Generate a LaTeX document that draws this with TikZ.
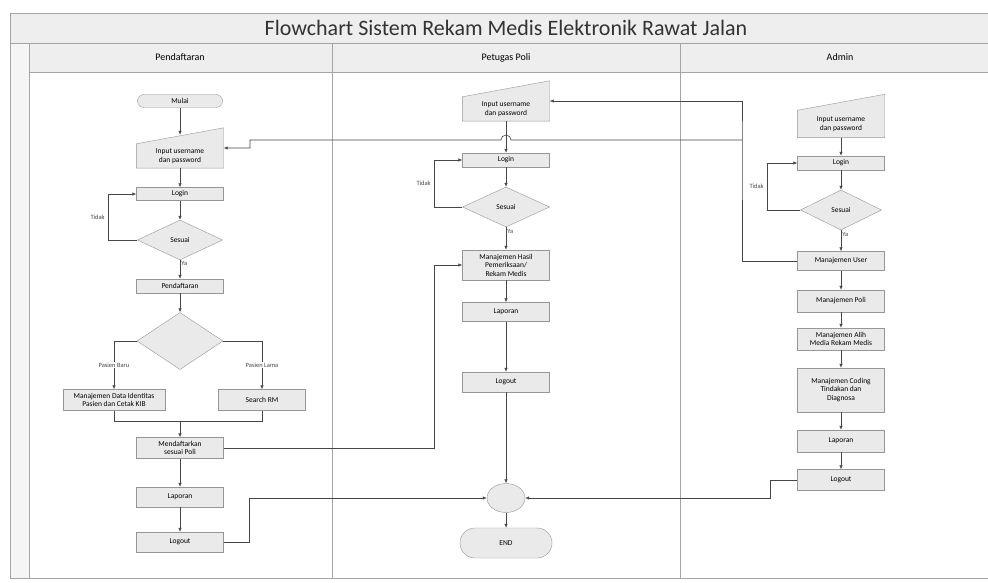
\documentclass[tikz,border=0pt]{standalone}
\usepackage{fontspec}
\setmainfont{Carlito}
\usetikzlibrary{shapes.geometric, arrows.meta, calc, backgrounds}
\definecolor{boxfill}{RGB}{234,234,234}
\definecolor{boxline}{RGB}{150,150,150}
\definecolor{wire}{RGB}{70,70,70}
\definecolor{lanefill}{RGB}{238,238,238}
\definecolor{laneline}{RGB}{165,165,165}

\begin{document}
\begin{tikzpicture}[x=1pt, y=-1pt,
    font=\fontsize{7.5}{8.5}\selectfont,
    % gaya simbol flowchart
    proses/.style={
        draw=boxline, fill=boxfill, align=center, minimum width=87, minimum height=20, inner sep=1pt
    },
    terminal/.style={
        proses, rounded corners=6.5, minimum height=13
    },
    keputusan/.style={
        diamond, draw=boxline, fill=boxfill, inner sep=0pt, minimum width=85, minimum height=40
    },
    inputbox/.style={
        align=center, minimum width=87, minimum height=24, inner sep=1pt
    },
    manual/.style={
        draw=boxline, fill=boxfill
    },
    gabung/.style={
        ellipse, draw=boxline, fill=boxfill, minimum width=38, minimum height=29
    },
    flow/.style={
        -{Latex[length=4pt,width=3.5pt]}, draw=wire, line width=0.6pt
    },
    garis/.style={
        draw=wire, line width=0.6pt
    },
    ket/.style={
        font=\fontsize{6.5}{7}\selectfont, text=wire
    },
    lane/.style={
        draw=laneline, line width=0.8pt
    }
]
    \useasboundingbox (0,0) rectangle (988,583);

    % --- KERANGKA SWIMLANE ---
    \draw[lane, fill=lanefill] (10,13) rectangle (992,43);
    \node[font=\fontsize{22}{24}\selectfont, text=black!80] (judul) at (506,28) {Flowchart Sistem Rekam Medis Elektronik Rawat Jalan};
    \draw[lane, fill=lanefill] (29,43) rectangle (992,72);
    \draw[lane, fill=lanefill!60] (10,43) rectangle (29,578);
    \draw[lane] (332,43) -- (332,578);
    \draw[lane] (680,43) -- (680,578);
    \draw[lane] (29,578) -- (992,578);
    \node[font=\fontsize{10}{11}\selectfont] (hdA) at (180,57.5) {Pendaftaran};
    \node[font=\fontsize{10}{11}\selectfont] (hdP) at (506,57.5) {Petugas Poli};
    \node[font=\fontsize{10}{11}\selectfont] (hdD) at (840,57.5) {Admin};

    % --- LANE PENDAFTARAN ---
    \node[terminal, minimum width=85] (mulai) at (180,101) {Mulai};
    \node[inputbox] (inA) at (180,156) {Input username\\dan password};
    \node[proses, minimum height=13] (loginA) at (180,194) {Login};
    \node[keputusan] (sesA) at (180,240) {Sesuai};
    \node[proses, minimum height=14] (daftar) at (180,286) {Pendaftaran};
    \node[keputusan, minimum width=86, minimum height=57] (cek) at (180,341) {};
    \node[proses, minimum width=102, minimum height=21] (baru) at (114,400) {Manajemen Data Identitas\\Pasien dan Cetak KIB};
    \node[proses, minimum height=21] (lama) at (262,400) {Search RM};
    \coordinate (gab) at (180,421);
    \node[proses, minimum height=21] (kirim) at (180,448) {Mendaftarkan\\sesuai Poli};
    \node[proses] (lapA) at (180,497) {Laporan};
    \node[proses] (outA) at (180,542) {Logout};

    % --- LANE PETUGAS POLI ---
    \node[inputbox] (inP) at (506,109) {Input username\\dan password};
    \node[proses, minimum height=14] (loginP) at (506,160) {Login};
    \node[keputusan, minimum width=87] (sesP) at (506,207) {Sesuai};
    \node[proses, minimum height=30] (hasil) at (506,265) {Manajemen Hasil\\Pemeriksaan/\\Rekam Medis};
    \node[proses, minimum height=19] (lapP) at (506,312) {Laporan};
    \node[proses] (outP) at (506,382) {Logout};
    \node[gabung] (temu) at (506,498) {};
    \node[terminal, minimum width=92, minimum height=30, rounded corners=15] (selesai) at (506,543) {END};

    % --- LANE ADMIN ---
    \node[inputbox, minimum height=27] (inD) at (841,124) {Input username\\dan password};
    \node[proses, minimum height=14] (loginD) at (841,163) {Login};
    \node[keputusan, minimum width=81] (sesD) at (841,210) {Sesuai};
    \node[proses, minimum height=19] (user) at (841,261) {Manajemen User};
    \node[proses, minimum height=22] (poli) at (841,301) {Manajemen Poli};
    \node[proses, minimum height=22] (alih) at (841,339) {Manajemen Alih\\Media Rekam Medis};
    \node[proses, minimum height=44] (coding) at (841,390) {Manajemen Coding\\Tindakan dan\\Diagnosa};
    \node[proses, minimum height=22] (lapD) at (841,441) {Laporan};
    \node[proses, minimum height=21] (outD) at (841,480) {Logout};
    \coordinate (cab) at (742,140);

    % bentuk input manual
    \begin{scope}[on background layer]
        \fill[white] (0,0) rectangle (988,583);
        \foreach \n in {inA, inP, inD} {
            \draw[manual] (\n.south west) -- (\n.north west) -- ([yshift=16pt]\n.north east) -- (\n.south east) -- cycle;
        }
    \end{scope}

    % --- ALUR PENDAFTARAN ---
    \draw[flow] (mulai) -- ([yshift=9pt]inA.north);
    \draw[flow] (inA) -- (loginA);
    \draw[flow] (loginA) -- (sesA);
    \draw[flow] (sesA.west) -- ++(-29,0) |- node[ket, left, pos=0.25] {Tidak} (loginA.west);
    \draw[flow] (sesA) -- node[ket, right, pos=0.2, inner sep=1pt] {Ya} (daftar);
    \draw[flow] (daftar) -- (cek);
    \draw[flow] (cek.west) -| node[ket, pos=0.75, fill=white, inner sep=1pt] {Pasien Baru} (baru.north);
    \draw[flow] (cek.east) -| node[ket, pos=0.75, fill=white, inner sep=1pt] {Pasien Lama} (lama.north);
    \draw[garis] (baru.south) |- (gab);
    \draw[garis] (lama.south) |- (gab);
    \draw[flow] (gab) -- (kirim);
    \draw[flow] (kirim) -- (lapA);
    \draw[flow] (lapA) -- (outA);
    \draw[flow] (kirim.east) -| ($(hasil.west)+(-28,0)$) -- (hasil.west);
    \draw[flow] (outA.east) -- ++(26,0) |- (temu.west);

    % --- ALUR PETUGAS POLI ---
    \draw[flow] (inP) -- (loginP);
    \draw[flow] (loginP) -- (sesP);
    \draw[flow] (sesP.west) -- ++(-28,0) |- node[ket, left, pos=0.25] {Tidak} (loginP.west);
    \draw[flow] (sesP) -- node[ket, right, pos=0.2, inner sep=1pt] {Ya} (hasil);
    \draw[flow] (hasil) -- (lapP);
    \draw[flow] (lapP) -- (outP);
    \draw[flow] (outP) -- (temu);
    \draw[flow] (temu) -- (selesai);

    % --- ALUR ADMIN ---
    \draw[flow] (inD) -- (loginD);
    \draw[flow] (loginD) -- (sesD);
    \draw[flow] (sesD.west) -- ++(-33,0) |- node[ket, left, pos=0.25] {Tidak} (loginD.west);
    \draw[flow] (sesD) -- node[ket, right, pos=0.2, inner sep=1pt] {Ya} (user);
    \foreach \a/\b in {user/poli, poli/alih, alih/coding, coding/lapD, lapD/outD} {
        \draw[flow] (\a) -- (\b);
    }
    \draw[flow] (outD.west) -- ++(-27,0) |- (temu.east);

    % akun baru dikirim ke petugas & pendaftaran
    \draw[flow] (user.west) -| (cab) |- ([yshift=8pt]inP.east);
    \draw[flow] (cab) -- ($(inP.south |- cab)+(5,0)$) arc[start angle=0, end angle=180, radius=5pt] -- (250,140) |- ([yshift=8pt]inA.east);

\end{tikzpicture}
\end{document}
